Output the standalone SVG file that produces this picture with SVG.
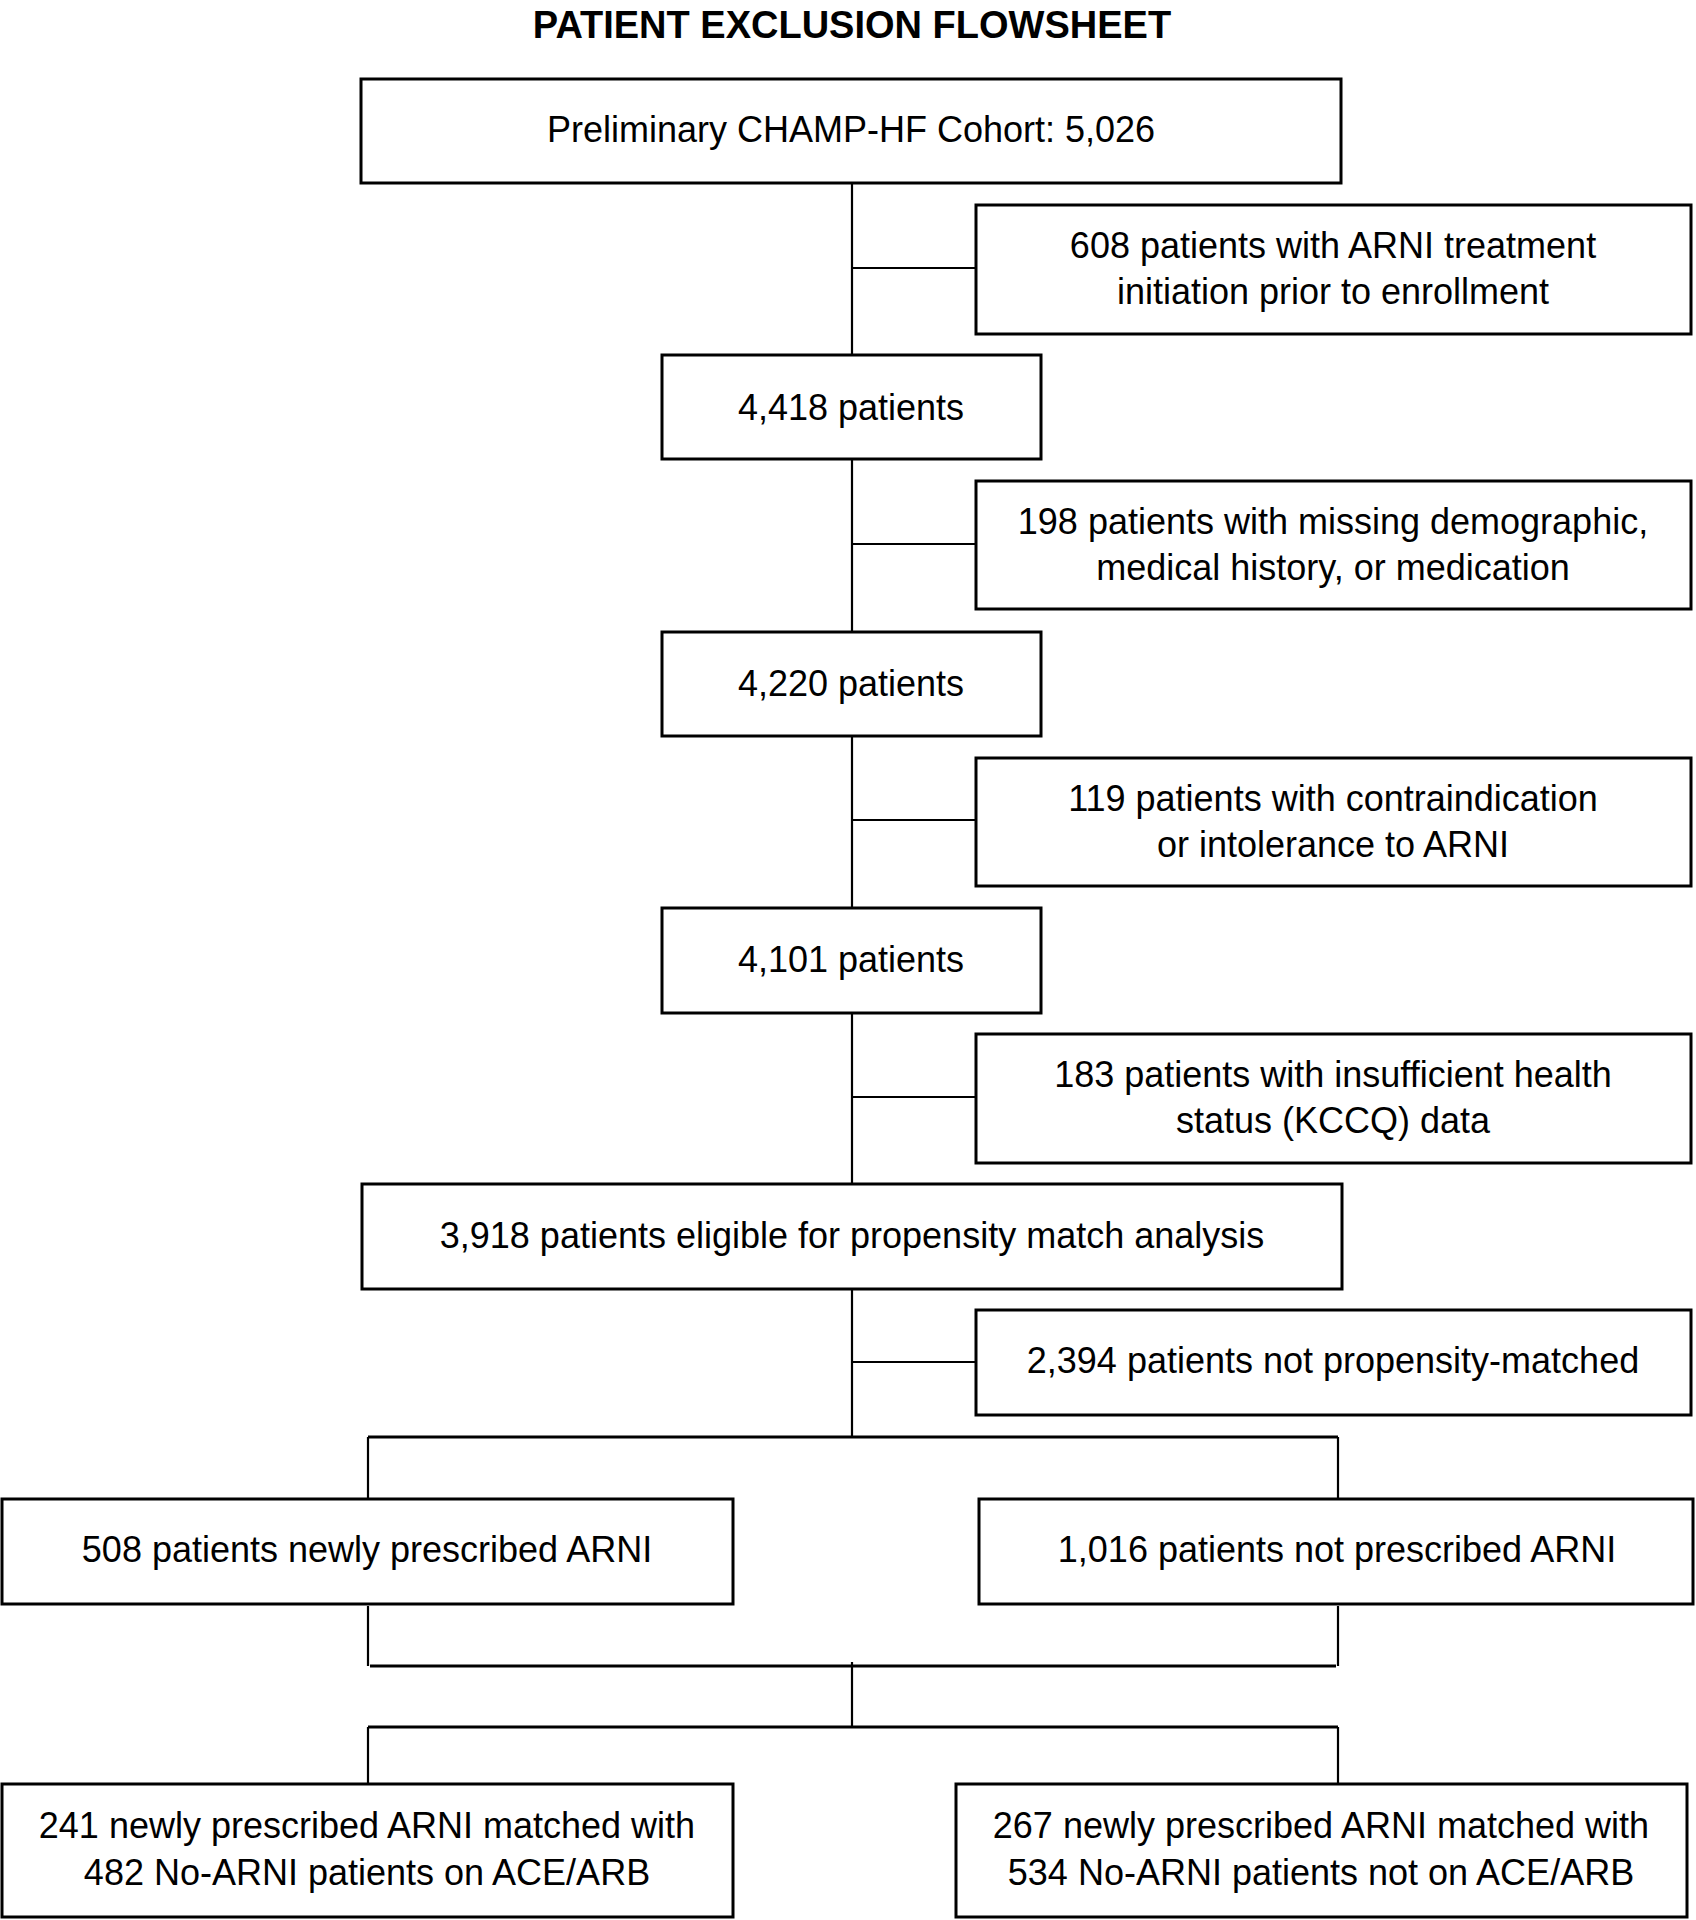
<svg xmlns="http://www.w3.org/2000/svg" width="1696" height="1920" viewBox="0 0 1696 1920">
<style>
.box{fill:#fff;stroke:#000;stroke-width:3}
.t{font-family:"Liberation Sans",Arial,sans-serif;font-size:36px;fill:#000;text-anchor:middle}
.title{font-family:"Liberation Sans",Arial,sans-serif;font-size:38px;font-weight:bold;fill:#000;text-anchor:middle}
.c{stroke:#000;stroke-width:2.2;fill:none}
.c2{stroke:#000;stroke-width:3.2;fill:none}
</style>
<rect x="0" y="0" width="1696" height="1920" fill="#fff"/>
<text class="title" x="852" y="38">PATIENT EXCLUSION FLOWSHEET</text>
<g id="connectors">
<path class="c" d="M852 183V1437"/>
<path class="c" d="M852 268H976M852 544H976M852 820H976M852 1097H976M852 1362H976"/>
<path class="c2" d="M368 1437H1338"/>
<path class="c" d="M368 1437V1499M1338 1437V1499"/>
<path class="c" d="M368 1606V1666M1338 1606V1666"/>
<path class="c2" d="M370 1666H1336"/>
<path class="c" d="M852 1662V1727"/>
<path class="c2" d="M368 1727H1338"/>
<path class="c" d="M368 1727V1785M1338 1727V1785"/>
</g>
<g id="n1"><rect class="box" x="361" y="79" width="980" height="104"/><text class="t" x="851" y="142">Preliminary CHAMP-HF Cohort: 5,026</text></g>
<g id="n2"><rect class="box" x="976" y="205" width="715" height="129"/><text class="t" x="1333" y="258">608 patients with ARNI treatment</text><text class="t" x="1333" y="304">initiation prior to enrollment</text></g>
<g id="n3"><rect class="box" x="662" y="355" width="379" height="104"/><text class="t" x="851" y="420">4,418 patients</text></g>
<g id="n4"><rect class="box" x="976" y="481" width="715" height="128"/><text class="t" x="1333" y="534">198 patients with missing demographic,</text><text class="t" x="1333" y="580">medical history, or medication</text></g>
<g id="n5"><rect class="box" x="662" y="632" width="379" height="104"/><text class="t" x="851" y="696">4,220 patients</text></g>
<g id="n6"><rect class="box" x="976" y="758" width="715" height="128"/><text class="t" x="1333" y="811">119 patients with contraindication</text><text class="t" x="1333" y="857">or intolerance to ARNI</text></g>
<g id="n7"><rect class="box" x="662" y="908" width="379" height="105"/><text class="t" x="851" y="972">4,101 patients</text></g>
<g id="n8"><rect class="box" x="976" y="1034" width="715" height="129"/><text class="t" x="1333" y="1087">183 patients with insufficient health</text><text class="t" x="1333" y="1133">status (KCCQ) data</text></g>
<g id="n9"><rect class="box" x="362" y="1184" width="980" height="105"/><text class="t" x="852" y="1248">3,918 patients eligible for propensity match analysis</text></g>
<g id="n10"><rect class="box" x="976" y="1310" width="715" height="105"/><text class="t" x="1333" y="1373">2,394 patients not propensity-matched</text></g>
<g id="n11"><rect class="box" x="2" y="1499" width="731" height="105"/><text class="t" x="367" y="1562">508 patients newly prescribed ARNI</text></g>
<g id="n12"><rect class="box" x="979" y="1499" width="714" height="105"/><text class="t" x="1337" y="1562">1,016 patients not prescribed ARNI</text></g>
<g id="n13"><rect class="box" x="2" y="1784" width="731" height="133"/><text class="t" x="367" y="1838">241 newly prescribed ARNI matched with</text><text class="t" x="367" y="1885">482 No-ARNI patients on ACE/ARB</text></g>
<g id="n14"><rect class="box" x="956" y="1784" width="731" height="133"/><text class="t" x="1321" y="1838">267 newly prescribed ARNI matched with</text><text class="t" x="1321" y="1885">534 No-ARNI patients not on ACE/ARB</text></g>
</svg>
